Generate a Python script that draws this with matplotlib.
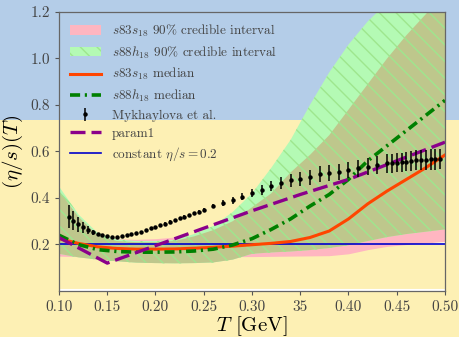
import numpy as np
import matplotlib
matplotlib.use('Agg')
import matplotlib.pyplot as plt
from matplotlib.patches import Rectangle

plt.rcParams['font.family'] = 'serif'
plt.rcParams['font.serif'] = ['cmr10']
plt.rcParams['mathtext.fontset'] = 'cm'
plt.rcParams['axes.formatter.use_mathtext'] = True
plt.rcParams['hatch.linewidth'] = 1.0

# temperature grid for the bands and medians (GeV)
T = np.array([0.10, 0.12, 0.14, 0.16, 0.18, 0.20, 0.22, 0.24, 0.26, 0.28, 0.30,
              0.32, 0.34, 0.36, 0.38, 0.40, 0.42, 0.44, 0.46, 0.48, 0.50])

# s83s18 90% credible interval + median
s83_lo = [0.150, 0.148, 0.146, 0.145, 0.145, 0.145, 0.145, 0.146, 0.147, 0.148, 0.148,
          0.149, 0.150, 0.151, 0.152, 0.160, 0.178, 0.192, 0.200, 0.207, 0.212]
s83_hi = [0.300, 0.260, 0.235, 0.225, 0.222, 0.225, 0.232, 0.240, 0.250, 0.255, 0.255,
          0.250, 0.245, 0.240, 0.235, 0.240, 0.250, 0.260, 0.270, 0.280, 0.290]
s83_med = [0.225, 0.205, 0.190, 0.183, 0.180, 0.180, 0.181, 0.184, 0.188, 0.193, 0.199,
           0.205, 0.213, 0.230, 0.258, 0.310, 0.375, 0.430, 0.480, 0.530, 0.585]

# s88h18 90% credible interval (outer light band, inner olive band) + median
s88_lo = [0.160, 0.145, 0.135, 0.128, 0.122, 0.120, 0.119, 0.120, 0.123, 0.135, 0.160,
          0.166, 0.170, 0.176, 0.185, 0.197, 0.215, 0.232, 0.245, 0.255, 0.265]
s88_hi = [0.450, 0.330, 0.250, 0.222, 0.215, 0.215, 0.220, 0.245, 0.280, 0.340, 0.420,
          0.530, 0.650, 0.800, 0.940, 1.060, 1.160, 1.240, 1.310, 1.380, 1.450]
s88_inner_hi = [0.430, 0.320, 0.240, 0.215, 0.210, 0.210, 0.215, 0.235, 0.262, 0.300, 0.360,
                0.420, 0.510, 0.585, 0.670, 0.780, 0.890, 1.000, 1.100, 1.190, 1.280]
s88_med = [0.240, 0.200, 0.178, 0.170, 0.167, 0.167, 0.168, 0.172, 0.180, 0.198, 0.225,
           0.265, 0.310, 0.365, 0.415, 0.480, 0.560, 0.625, 0.690, 0.755, 0.820]

# param1
T_param = [0.10, 0.15, 0.20, 0.25, 0.30, 0.35, 0.40, 0.45, 0.50]
param1 = [0.230, 0.120, 0.195, 0.270, 0.345, 0.415, 0.480, 0.560, 0.640]

# Mykhaylova et al.
T_myk = [0.110, 0.115, 0.120, 0.125, 0.130, 0.135, 0.140, 0.145, 0.150, 0.155, 0.160,
         0.165, 0.170, 0.175, 0.180, 0.185, 0.190, 0.195, 0.200, 0.205, 0.210, 0.215,
         0.220, 0.225, 0.230, 0.235, 0.240, 0.245, 0.250, 0.26, 0.27, 0.28, 0.29, 0.30,
         0.31, 0.32, 0.33, 0.34, 0.35, 0.36, 0.37, 0.38, 0.39, 0.40, 0.41, 0.42, 0.43,
         0.440, 0.445, 0.450, 0.455, 0.460, 0.465, 0.470, 0.475, 0.480, 0.485, 0.490, 0.495]
eta_myk = [0.320, 0.302, 0.287, 0.274, 0.262, 0.252, 0.245, 0.239, 0.235, 0.233, 0.234,
           0.236, 0.240, 0.244, 0.249, 0.255, 0.262, 0.269, 0.276, 0.283, 0.290, 0.298,
           0.305, 0.312, 0.319, 0.326, 0.334, 0.341, 0.348, 0.366, 0.378, 0.390, 0.406, 0.421,
           0.435, 0.452, 0.466, 0.477, 0.482, 0.490, 0.503, 0.509, 0.513, 0.520, 0.528, 0.535, 0.542,
           0.549, 0.549, 0.552, 0.553, 0.556, 0.560, 0.563, 0.563, 0.563, 0.566, 0.566, 0.568]
err_myk = [0.050, 0.040, 0.032, 0.024, 0.016, 0.010, 0.006, 0.005, 0.004, 0.004, 0.004,
           0.004, 0.004, 0.004, 0.005, 0.005, 0.005, 0.005, 0.005, 0.005, 0.006, 0.006,
           0.006, 0.006, 0.007, 0.007, 0.007, 0.008, 0.008, 0.010, 0.012, 0.014, 0.016, 0.018,
           0.020, 0.022, 0.026, 0.028, 0.030, 0.032, 0.033, 0.034, 0.035, 0.036, 0.037, 0.038, 0.039,
           0.040, 0.040, 0.041, 0.041, 0.042, 0.042, 0.043, 0.043, 0.043, 0.044, 0.044, 0.044]

const_eta = 0.2
white_floor = 0.006

xticks = [0.10, 0.15, 0.20, 0.25, 0.30, 0.35, 0.40, 0.45, 0.50]
xticklabels = ['0.10', '0.15', '0.20', '0.25', '0.30', '35', '0.40', '0.45', '0.50']
yticks = [0.2, 0.4, 0.6, 0.8, 1.0, 1.2]

fig = plt.figure(figsize=(4.59, 3.37), dpi=100)
fig.patch.set_facecolor('#fdf0b4')
fig.add_artist(Rectangle((0, 0.644), 1, 0.356, transform=fig.transFigure,
                         facecolor='#b4cde8', edgecolor='none', zorder=-10))

ax = fig.add_axes([0.1285, 0.1365, 0.8410, 0.8279])
ax.set_facecolor('none')

pink = ax.fill_between(T, s83_lo, s83_hi, color='#ffb6c1', lw=0, zorder=1,
                       label=r'$s83s_{18}$ 90% credible interval')
ax.fill_between(T, const_eta, s83_lo, where=np.array(s83_lo) > const_eta,
                interpolate=True, color='white', lw=0, zorder=1.5)
green = ax.fill_between(T, s88_lo, s88_hi, facecolor='#b4fab4', edgecolor='#9ee68e',
                        hatch='\\\\', lw=0, zorder=2,
                        label=r'$s88h_{18}$ 90% credible interval')
ax.fill_between(T, s88_lo, s88_inner_hi, facecolor='#bec78c', edgecolor='#9ee68e',
                hatch='\\\\', lw=0, zorder=3)

ax.axhline(white_floor, color='white', lw=1.5, zorder=1)

l_med83, = ax.plot(T, s83_med, color='#ff4500', lw=2.2, zorder=6,
                   label=r'$s83s_{18}$ median')
l_med88, = ax.plot(T, s88_med, color='green', lw=2.6, ls=(0, (2.8, 1.3, 0.6, 1.3)), zorder=6,
                   label=r'$s88h_{18}$ median')
eb = ax.errorbar(T_myk, eta_myk, yerr=err_myk, fmt='o', color='black', ms=2.2,
                 elinewidth=1.1, capsize=0, zorder=7, label='Mykhaylova et al.')
l_par, = ax.plot(T_param, param1, color='#8b008b', lw=2.4, ls=(0, (4.5, 1.8)), zorder=6,
                 label='param1')
l_const = ax.axhline(const_eta, color='#0000cc', lw=1.2, zorder=5,
                     label=r'constant $\eta/s=0.2$')

ax.set_xlim(0.10, 0.50)
ax.set_ylim(0.0, 1.2)
ax.set_xticks(xticks)
ax.set_xticklabels(xticklabels)
ax.set_yticks(yticks)
ax.set_yticklabels(['0.2', '0.4', '0.6', '0.8', '1.0', '1.2'])
ax.tick_params(labelsize=11, length=3, width=0.8, color='#555555', labelcolor='#444444')
for sp in ax.spines.values():
    sp.set_color('#666666')
    sp.set_linewidth(0.9)
    sp.set_zorder(8)

ax.set_xlabel(r'$T$ [GeV]', fontsize=15, labelpad=0)
ax.set_ylabel(r'$(\eta/s)(T)$', fontsize=15, labelpad=4)

handles = [pink, green, l_med83, l_med88, eb, l_par, l_const]
ax.legend(handles, [h.get_label() for h in handles],
          loc='upper left', frameon=False, fontsize=9.5, handlelength=2.4,
          labelspacing=0.42, borderaxespad=0.3, borderpad=0.5, labelcolor='#444444')

fig.savefig('out.png', dpi=100)
